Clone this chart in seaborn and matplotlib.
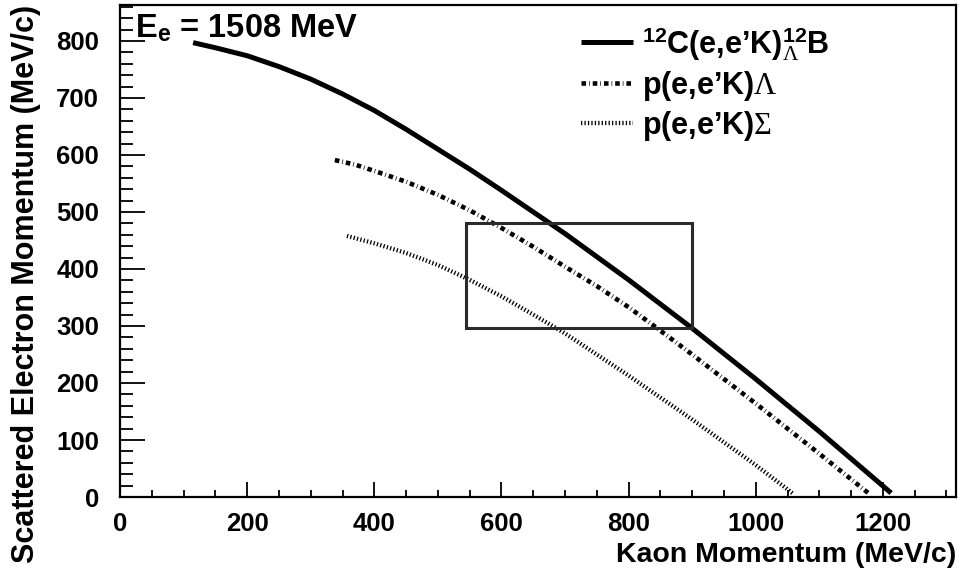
import numpy as np
import pandas as pd
import matplotlib
matplotlib.use("Agg")
import matplotlib.pyplot as plt
from matplotlib.lines import Line2D
from matplotlib.patches import Rectangle
from matplotlib.ticker import MultipleLocator
import seaborn as sns

# Kinematic curves: kaon momentum (MeV/c) vs scattered electron momentum (MeV/c)
c12_pk = [115, 150, 200, 250, 300, 350, 400, 450, 500, 550, 600, 650, 700,
          800, 900, 1000, 1100, 1213]
c12_pe = [797, 788, 774, 755, 733, 707, 678, 645, 610, 575, 538, 500, 462,
          381, 296, 207, 115, 7]

lam_pk = [338, 370, 400, 450, 500, 550, 600, 650, 700, 750, 800, 845, 900,
          1000, 1100, 1177]
lam_pe = [591, 583, 572, 553, 530, 503, 472, 439, 404, 370, 333, 296, 250,
          164, 76, 7]

sig_pk = [357, 400, 450, 500, 550, 600, 650, 700, 800, 900, 1000, 1060]
sig_pe = [458, 445, 428, 407, 381, 352, 320, 287, 213, 136, 56, 5]

reactions = ["c12", "lam", "sig"]
labels = [
    r"$^{\mathbf{12}}$C(e,e’K)$^{\mathbf{12}}_{\Lambda}$B",
    r"p(e,e’K)$\Lambda$",
    r"p(e,e’K)$\Sigma$",
]

# Acceptance window
box_pk = [545, 900]
box_pe = [296, 480]

beam_label = r"E$_{\mathbf{e}}$ = 1508 MeV"

df = pd.concat([
    pd.DataFrame({"pk": c12_pk, "pe": c12_pe, "reaction": "c12"}),
    pd.DataFrame({"pk": lam_pk, "pe": lam_pe, "reaction": "lam"}),
    pd.DataFrame({"pk": sig_pk, "pe": sig_pe, "reaction": "sig"}),
])

sns.set_theme(style="ticks")
plt.rcParams["font.family"] = ["Liberation Sans", "DejaVu Sans"]
plt.rcParams["text.color"] = "black"
plt.rcParams["axes.labelcolor"] = "black"
plt.rcParams["xtick.color"] = "black"
plt.rcParams["ytick.color"] = "black"
plt.rcParams["mathtext.fontset"] = "custom"
plt.rcParams["mathtext.rm"] = "Liberation Serif:weight=normal"
plt.rcParams["mathtext.it"] = "Liberation Serif:style=italic:weight=normal"
plt.rcParams["mathtext.bf"] = "Liberation Sans:weight=bold"

fig = plt.figure(figsize=(9.6, 5.74), dpi=100)
ax = fig.add_axes([0.125, 0.1341, 0.8708, 0.8572])

styles = {
    "c12": dict(lw=3.6, dashes=None),
    "lam": dict(lw=3.3, dashes=(1.0, 0.65, 0.15, 0.65)),
    "sig": dict(lw=3.1, dashes=(0.3, 0.5)),
}

for r in reactions:
    sub = df[df["reaction"] == r]
    st = styles[r]
    sns.lineplot(data=sub, x="pk", y="pe", ax=ax, sort=True, estimator=None,
                 legend=False, color="black", lw=st["lw"],
                 solid_capstyle="butt", solid_joinstyle="round")
    ln = ax.lines[-1]
    if st["dashes"] is not None:
        ln.set_dashes(st["dashes"])
        ln.set_dash_capstyle("butt")

ax.add_patch(Rectangle((box_pk[0], box_pe[0]), box_pk[1] - box_pk[0],
                       box_pe[1] - box_pe[0], fill=False,
                       edgecolor="#2a2a2a", lw=2.2, zorder=3))

ax.set_xlim(0, 1315)
ax.set_ylim(0, 863)

ax.xaxis.set_major_locator(MultipleLocator(200))
ax.xaxis.set_minor_locator(MultipleLocator(50))
ax.yaxis.set_major_locator(MultipleLocator(100))
ax.yaxis.set_minor_locator(MultipleLocator(20))
ax.xaxis.set_ticks_position("bottom")
ax.yaxis.set_ticks_position("left")

ax.tick_params(axis="x", which="major", direction="in", length=10.8, width=1.3,
               labelsize=18.5, pad=11, color="black", labelcolor="black")
ax.tick_params(axis="x", which="minor", direction="in", length=5.3, width=1.3,
               color="black")
ax.tick_params(axis="y", which="major", direction="in", length=18, width=1.3,
               labelsize=18.5, pad=15, color="black", labelcolor="black")
ax.tick_params(axis="y", which="minor", direction="in", length=9.4, width=1.3,
               color="black")
for lab in ax.get_xticklabels() + ax.get_yticklabels():
    lab.set_fontweight("bold")

for sp in ax.spines.values():
    sp.set_visible(True)
    sp.set_linewidth(1.6)
    sp.set_color("black")

ax.set_xlabel("Kaon Momentum (MeV/c)", fontsize=20.5, fontweight="bold",
              loc="right", labelpad=4, color="black")
ax.set_ylabel("Scattered Electron Momentum (MeV/c)", fontsize=22,
              fontweight="bold", loc="top", color="black")
ax.yaxis.set_label_coords(-0.094, 1.0)

ax.text(0.018, 0.985, beam_label, transform=ax.transAxes, fontsize=23.5,
        fontweight="bold", ha="left", va="top", color="black")

handles = [
    Line2D([], [], color="black", lw=styles[r]["lw"],
           dashes=styles[r]["dashes"] if styles[r]["dashes"] is not None else (None, None),
           dash_capstyle="butt", solid_capstyle="butt")
    for r in reactions
]
leg = ax.legend(handles, labels, loc="upper left", bbox_to_anchor=(0.551, 0.96),
                frameon=False, borderpad=0, borderaxespad=0, handlelength=1.7,
                handletextpad=0.3, labelspacing=0.2,
                prop={"size": 22, "weight": "bold"})
for t in leg.get_texts():
    t.set_color("black")

fig.savefig("out.png", dpi=100)
